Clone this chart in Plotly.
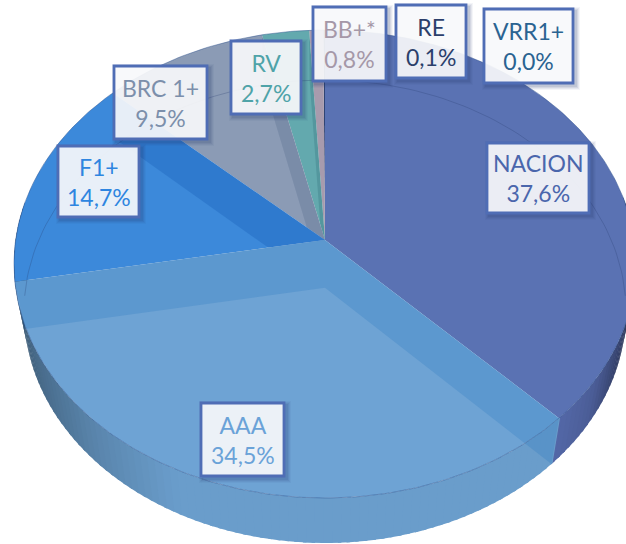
import numpy as np
import plotly.graph_objects as go

# ---- data (clockwise from 12 o'clock) ----
categories = ["NACION", "AAA", "F1+", "BRC 1+", "RV", "BB+*", "RE", "VRR1+"]
values = [37.6, 34.5, 14.7, 9.5, 2.7, 0.8, 0.1, 0.0]

# ---- styling ----
face_colors = ["#5a72b3", "#6ea3d4", "#3c89da", "#8b9bb5", "#63a9ae", "#a89bad", "#2f4474", "#2a6391"]
wall_colors = ["#5468a8", "#6a9dcb", "#3a7cc4", "#7f8fa8", "#5b9ba0", "#9a8e9f", "#2f4474", "#2a6391"]
text_colors = ["#4a66ac", "#6aa2d8", "#2e85e0", "#7c8fab", "#4fa3a8", "#a598a8", "#2b3f6b", "#2a6391"]
wedge_colors = [None, "rgba(40,120,190,0.25)", "rgba(20,90,180,0.30)", "rgba(70,95,130,0.25)",
                "rgba(40,100,110,0.25)", None, None, None]
# label boxes in page pixels: left, right, top, bottom
label_boxes = [(487, 589, 143, 213), (201, 284, 403, 476), (58, 139, 146, 217), (114, 207, 66, 139),
               (231, 301, 41, 114), (313, 386, 7, 81), (396, 466, 5, 78), (484, 573, 9, 83)]

CX = 325.0
TOP = dict(a=311.0, b=234.0, y0=264.0)      # upper disc ellipse
BOT = dict(a=301.0, b=231.5, y0=311.5)      # lower disc ellipse
D = 0.1026                                  # perspective shift of the pie centre


def rim(theta_deg, disc):
    """Project a point on the pie's circle (degrees clockwise from 12) to the page."""
    t = np.radians(np.asarray(theta_deg, dtype=float))
    sx, cy = np.sin(t), np.cos(t)
    den = 1 + D * cy
    X = sx * np.sqrt(1 - D ** 2) / den
    Y = (cy + D) / den
    return CX + disc["a"] * X, disc["y0"] - disc["b"] * Y


def apex(disc):
    return CX, disc["y0"] - disc["b"] * D


def shade(hexcol, f):
    r, g, b = [int(hexcol[i:i + 2], 16) for i in (1, 3, 5)]
    return f"rgb({int(r * f)},{int(g * f)},{int(b * f)})"


def poly(xs, ys, fill):
    return go.Scatter(x=list(xs), y=list(ys), mode="lines", fill="toself", fillcolor=fill,
                      line=dict(width=0), hoverinfo="skip", showlegend=False)


def sector_pts(a0, a1):
    n = max(2, int(abs(a1 - a0) * 2) + 2)
    th = np.linspace(a0, a1, n)
    x, y = rim(th, TOP)
    ax, ay = apex(TOP)
    return np.r_[ax, x, ax], np.r_[ay, y, ay]


fig = go.Figure()
bounds = np.r_[0, np.cumsum(values)] * 360.0 / sum(values)

# outer walls
for i in range(len(values)):
    a0, a1 = bounds[i], bounds[i + 1]
    if a1 <= a0:
        continue
    steps = np.arange(a0, a1 + 1.5, 1.5)
    steps[-1] = a1
    for s0, s1 in zip(steps[:-1], steps[1:]):
        if s1 <= s0:
            continue
        mid = 0.5 * (s0 + s1)
        if 80 < mid < 280:
            X = np.sin(np.radians(mid))
            f = np.interp(X, [-1, -0.9, -0.7, -0.45, 0.7, 0.82, 0.92, 1],
                          [0.55, 0.68, 0.85, 1, 1, 0.9, 0.65, 0.42])
            xt, yt = rim([s0 - 0.3, s1 + 0.3], TOP)
            xb, yb = rim([s0 - 0.3, s1 + 0.3], BOT)
            fig.add_trace(poly([xt[0], xt[1], xb[1], xb[0], xt[0]],
                               [yt[0], yt[1], yb[1], yb[0], yt[0]], shade(wall_colors[i], f)))


def wedge(angle, color):
    xt, yt = rim([angle], TOP)
    xb, yb = rim([angle], BOT)
    ax, ay = apex(TOP)
    bx, by = apex(BOT)
    fig.add_trace(poly([ax, xt[0], xb[0], bx, ax], [ay, yt[0], yb[0], by, ay], color))


# top faces, back slices first
x, y = sector_pts(bounds[0], bounds[1])
fig.add_trace(poly(x, y, face_colors[0]))
for i in range(len(values) - 1, 0, -1):
    if bounds[i + 1] > bounds[i]:
        x, y = sector_pts(bounds[i], bounds[i + 1])
        fig.add_trace(poly(x, y, face_colors[i]))
    if wedge_colors[i]:
        wedge(bounds[i + 1], wedge_colors[i])
wedge(bounds[1], wedge_colors[1])

# far rim of the lower disc seen through the faces, and the top rim
th = np.linspace(-92, 92, 120)
xb, yb = rim(th, BOT)
fig.add_trace(go.Scatter(x=xb, y=yb, mode="lines", line=dict(color="rgba(40,60,110,0.28)", width=1),
                         hoverinfo="skip", showlegend=False))
th = np.linspace(0, 360, 361)
xt, yt = rim(th, TOP)
fig.add_trace(go.Scatter(x=xt, y=yt, mode="lines", line=dict(color="rgba(45,80,140,0.45)", width=1),
                         hoverinfo="skip", showlegend=False))

# labels
shapes, annotations = [], []
for name, val, col, (l, r, t, b) in zip(categories, values, text_colors, label_boxes):
    for grow, alpha in ((4, 0.05), (3, 0.07), (2, 0.09), (1, 0.11)):
        shapes.append(dict(type="rect", xref="x", yref="y", x0=l + 2 - grow, x1=r + 3 + grow,
                           y0=t + 2 - grow, y1=b + 3 + grow, line=dict(width=0),
                           fillcolor=f"rgba(40,60,110,{alpha})", layer="above"))
    shapes.append(dict(type="rect", xref="x", yref="y", x0=l, x1=r, y0=t, y1=b,
                       line=dict(color="#4f6db5", width=2.8),
                       fillcolor="rgba(255,255,255,0.89)", layer="above"))
    annotations.append(dict(x=(l + r) / 2, y=(t + b) / 2, xref="x", yref="y", showarrow=False,
                            text=f"{name}<br>{val:.1f}%".replace(".", ","),
                            font=dict(family="Lato, Carlito, sans-serif", size=23, color=col)))

fig.update_layout(
    width=626, height=544, autosize=False,
    margin=dict(l=0, r=0, t=0, b=0),
    paper_bgcolor="white", plot_bgcolor="white", showlegend=False,
    xaxis=dict(range=[0, 626], visible=False, fixedrange=True),
    yaxis=dict(range=[544, 0], visible=False, fixedrange=True),
    shapes=shapes, annotations=annotations,
)
fig.write_html("out.html", post_script="document.body.style.margin='0';",
               config={"displayModeBar": False})
